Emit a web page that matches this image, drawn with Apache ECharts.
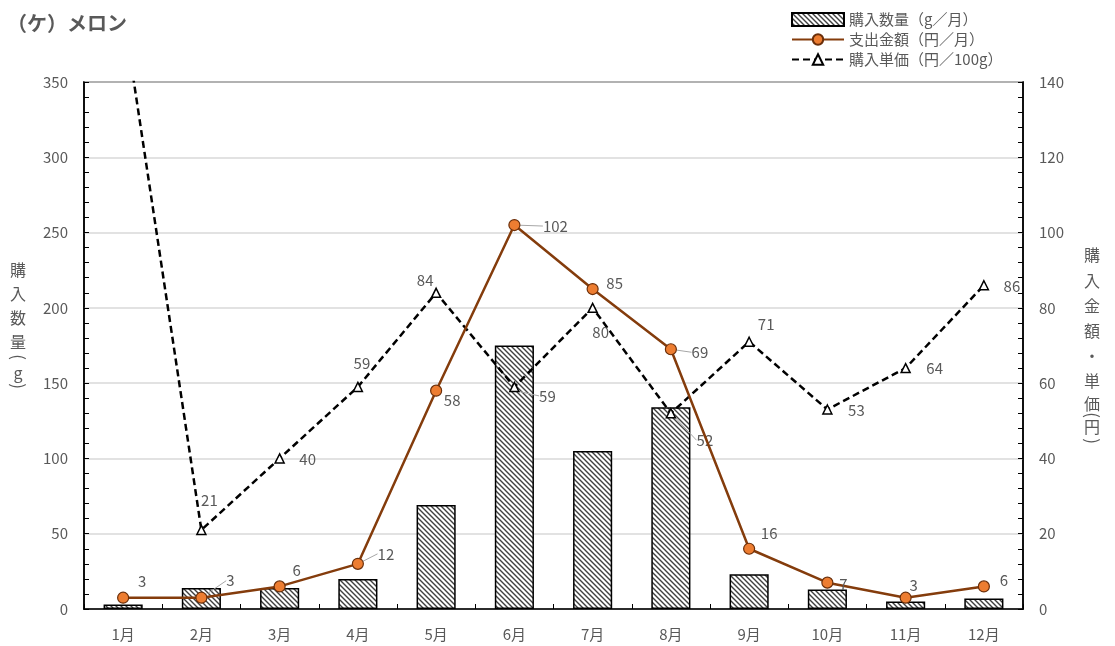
<!DOCTYPE html>
<html><head><meta charset="utf-8">
<script src="https://cdn.jsdelivr.net/npm/echarts@6/dist/echarts.min.js"></script>
<style>html,body{margin:0;padding:0;background:#fff}#c{width:1115px;height:646px}</style>
</head><body><div id="c"></div>
<script>
const categories = ['1月','2月','3月','4月','5月','6月','7月','8月','9月','10月','11月','12月'];
const quantity = [3, 14, 14, 20, 69, 175, 105, 134, 23, 13, 5, 7];
const expense = [3, 3, 6, 12, 58, 102, 85, 69, 16, 7, 3, 6];
const unitPrice = [159, 21, 40, 59, 84, 59, 80, 52, 71, 53, 64, 86];
const leftTicks = [0, 350, 50];
const rightTicks = [0, 140, 20];
const leftName = ['購','入','数','量','(','g',')'];
const rightName = ['購','入','金','額','・','単','価','(','円',')'];

// label / text placement (style only)
const leftNameY = [270,294,318,342,357,373,386];
const rightNameY = [255,281,306,331,356,381,404,415,427,441];
const expOff = [[19,-16],[29,-17],[17,-16],[28,-10],[16,10],[41,1],[22,-6],[29,3],[20,-15],[16,2],[8,-12],[20,-6]];
const expLine = [false,true,false,true,false,true,false,true,false,false,false,false];
const priOff = [[0,0],[8,-30],[28,1],[4,-24],[-11,-13],[33,9],[8,24],[34,27],[17,-17],[29,1],[29,0],[28,1]];
const priLine = [false,false,false,false,false,true,false,true,false,false,false,false];

const FONT = '"Noto Sans CJK JP", "Noto Sans", sans-serif';
const GRAY = '#595959';

const cv = document.createElement('canvas');
cv.width = 5; cv.height = 5;
const cx = cv.getContext('2d');
cx.fillStyle = '#fff'; cx.fillRect(0,0,5,5);
cx.strokeStyle = '#404040'; cx.lineWidth = 1.4;
cx.beginPath();
cx.moveTo(-1,-1); cx.lineTo(6,6);
cx.moveTo(-1,4); cx.lineTo(1,6);
cx.moveTo(4,-1); cx.lineTo(6,1);
cx.stroke();

const nameGraphics = [];
function addName(chars, ys, x){
  chars.forEach((ch,i)=>{
    const paren = (ch==='(' || ch===')');
    nameGraphics.push({type:'text', x:x, y:ys[i], rotation: paren ? -Math.PI/2 : 0,
      style:{text:ch, fill:GRAY, font:(paren?'17px ':'16px ')+FONT, align:'center', verticalAlign:'middle'}});
  });
}
addName(leftName, leftNameY, 18);
addName(rightName, rightNameY, 1092);

const chart = echarts.init(document.getElementById('c'));
const lbl = {show:true, position:'inside', color:GRAY, fontSize:15, fontFamily:FONT};
chart.setOption({
  animation:false,
  textStyle:{fontFamily:FONT},
  title:{text:'（ケ）メロン', left:2, top:8, textStyle:{fontSize:20, fontWeight:'bold', color:GRAY, fontFamily:FONT}},
  legend:{
    orient:'vertical', left:786, top:7, itemGap:5, itemWidth:52, itemHeight:13,
    textStyle:{fontSize:15, color:GRAY, fontFamily:FONT},
    data:[
      {name:'購入数量（g／月）', icon:'rect'},
      {name:'支出金額（円／月）'},
      {name:'購入単価（円／100g）'}
    ]
  },
  grid:{left:84, right:92, top:82, bottom:37, show:true, borderColor:'#000', borderWidth:1.5},
  xAxis:{
    type:'category', data:categories,
    axisLine:{lineStyle:{color:'#000', width:1.5}},
    axisTick:{show:true, inside:true, length:5, lineStyle:{color:'#000'}},
    axisLabel:{color:GRAY, fontSize:15, margin:18, fontFamily:FONT},
    splitLine:{show:false}
  },
  yAxis:[
    {type:'value', min:leftTicks[0], max:leftTicks[1], interval:leftTicks[2],
     axisLine:{show:true, lineStyle:{color:'#000', width:1.5}},
     axisTick:{show:true, inside:true, length:5, lineStyle:{color:'#000'}},
     minorTick:{show:true, splitNumber:5, length:5, lineStyle:{color:'#000'}},
     axisLabel:{color:GRAY, fontSize:15, margin:16, fontFamily:FONT},
     splitLine:{show:true, lineStyle:{color:'#d9d9d9', width:1.5}}},
    {type:'value', min:rightTicks[0], max:rightTicks[1], interval:rightTicks[2], position:'right',
     axisLine:{show:true, lineStyle:{color:'#000', width:1.5}},
     axisTick:{show:true, inside:true, length:5, lineStyle:{color:'#000'}},
     minorTick:{show:true, splitNumber:5, length:5, lineStyle:{color:'#000'}},
     axisLabel:{color:GRAY, fontSize:15, margin:16, fontFamily:FONT},
     splitLine:{show:false}}
  ],
  graphic:nameGraphics,
  series:[
    {name:'購入数量（g／月）', type:'bar', yAxisIndex:0, data:quantity, barWidth:'50%',
     itemStyle:{color:{image:cv, repeat:'repeat'}, borderColor:'#000', borderWidth:1.5}},
    {name:'支出金額（円／月）', type:'line', yAxisIndex:1, z:5,
     data:expense.map((v,i)=>({value:v, labelLine:{show:expLine[i]}})),
     symbol:'circle', symbolSize:11,
     lineStyle:{color:'#843c0c', width:2.5},
     itemStyle:{color:'#ed7d31', borderColor:'#6b2f0a', borderWidth:1.2},
     label:lbl,
     labelLine:{show:false, lineStyle:{color:'#a6a6a6', width:1}},
     labelLayout:(p)=>({dx:expOff[p.dataIndex][0], dy:expOff[p.dataIndex][1]})
    },
    {name:'購入単価（円／100g）', type:'line', yAxisIndex:1, z:4, clip:true,
     data:unitPrice.map((v,i)=>({value:v, label:{show:i>0}, labelLine:{show:priLine[i]}})),
     symbol:'triangle', symbolSize:9,
     lineStyle:{color:'#000', width:2.5, type:[7,4]},
     itemStyle:{color:'#fff', borderColor:'#000', borderWidth:1.5},
     label:lbl,
     labelLine:{show:false, lineStyle:{color:'#a6a6a6', width:1}},
     labelLayout:(p)=>({dx:priOff[p.dataIndex][0], dy:priOff[p.dataIndex][1]})
    }
  ]
});
</script></body></html>
